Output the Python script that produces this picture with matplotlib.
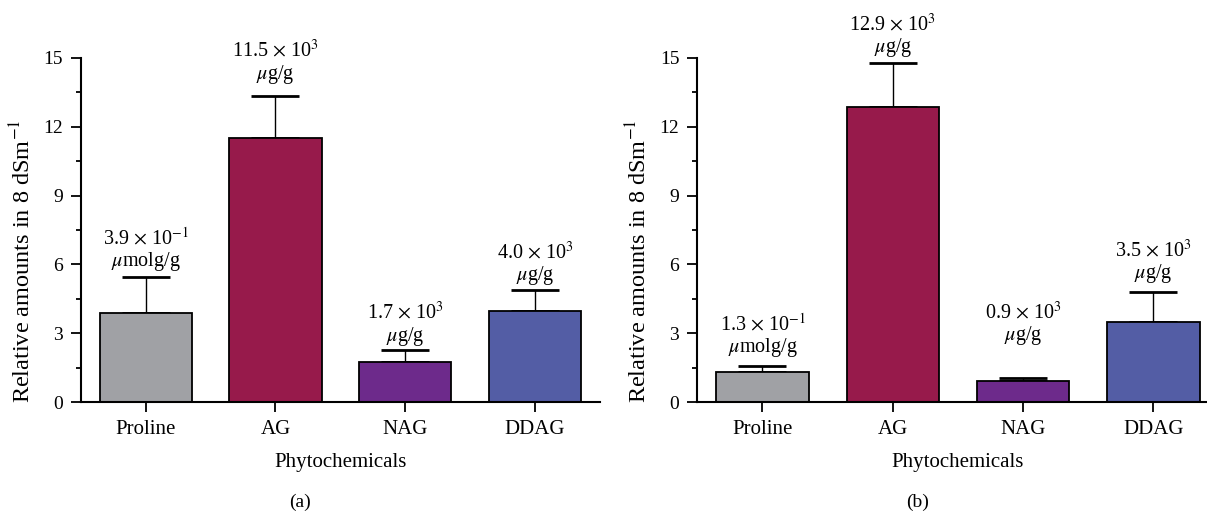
import numpy as np
import matplotlib
matplotlib.use("Agg")
import matplotlib.pyplot as plt
from matplotlib.ticker import MultipleLocator

plt.rcParams['font.family'] = ['Liberation Serif', 'DejaVu Serif']
plt.rcParams['mathtext.fontset'] = 'stix'

categories = ['Proline', 'AG', 'NAG', 'DDAG']
colors = ['#A0A1A5', '#971A4B', '#6D2A8B', '#535DA5']

# panel (a)
vals_a = [3.9, 11.5, 1.74, 3.98]
err_a = [1.55, 1.85, 0.52, 0.9]
labels_a = [r'3.9 $\times$ 10$^{-1}$' + '\n' + r'$\mu$molg/g',
            r'11.5 $\times$ 10$^{3}$' + '\n' + r'$\mu$g/g',
            r'1.7 $\times$ 10$^{3}$' + '\n' + r'$\mu$g/g',
            r'4.0 $\times$ 10$^{3}$' + '\n' + r'$\mu$g/g']
gap_a = [3, 7, 2, 2]

# panel (b)
vals_b = [1.33, 12.87, 0.91, 3.51]
err_b = [0.26, 1.89, 0.16, 1.28]
labels_b = [r'1.3 $\times$ 10$^{-1}$' + '\n' + r'$\mu$molg/g',
            r'12.9 $\times$ 10$^{3}$' + '\n' + r'$\mu$g/g',
            r'0.9 $\times$ 10$^{3}$' + '\n' + r'$\mu$g/g',
            r'3.5 $\times$ 10$^{3}$' + '\n' + r'$\mu$g/g']
gap_b = [5, 3, 22, 5]

W, H = 1207, 514
fig = plt.figure(figsize=(W / 100, H / 100), dpi=100)

def panel(rect, vals, errs, labels, gaps, tag):
    ax = fig.add_axes(rect)
    x = np.arange(len(categories))
    ax.bar(x, vals, width=0.71, color=colors, edgecolor='black', linewidth=1.3, zorder=2)
    ax.errorbar(x, vals, yerr=[np.zeros(len(vals)), errs], fmt='none', ecolor='black',
                elinewidth=1.0, capsize=17, capthick=2.0, zorder=1)
    for xi, v, e, lab, g in zip(x, vals, errs, labels, gaps):
        ax.annotate(lab, (xi, v + e), xytext=(0, g), textcoords='offset points',
                    ha='center', va='bottom', fontsize=14.5, linespacing=1.05)
    ax.set_xlim(-0.5, 3.5)
    ax.set_ylim(0, 15)
    ax.yaxis.set_major_locator(MultipleLocator(3))
    ax.yaxis.set_minor_locator(MultipleLocator(1.5))
    ax.set_xticks(x)
    ax.set_xticklabels(categories, fontsize=15)
    ax.tick_params(axis='y', labelsize=14, length=7, width=1.3, pad=6)
    ax.tick_params(axis='y', which='minor', length=3.5, width=1.3)
    ax.tick_params(axis='x', length=7, width=1.3, pad=6)
    for s in ['top', 'right']:
        ax.spines[s].set_visible(False)
    for s in ['left', 'bottom']:
        ax.spines[s].set_linewidth(1.5)
    ax.set_xlabel('Phytochemicals', fontsize=15, labelpad=10)
    ax.set_ylabel(r'Relative amounts in 8 dSm$^{-1}$', fontsize=17.5)
    ax.yaxis.set_label_coords(-0.088, 0.41)
    fig.text(rect[0] + rect[2] / 2 - 40 / W, 12 / H, tag, ha='center', va='center', fontsize=14)
    return ax

axh = 344.6 / H
axb = 111.7 / H
panel([80.7 / W, axb, 519.3 / W, axh], vals_a, err_a, labels_a, gap_a, '(a)')
panel([697.3 / W, axb, 521.3 / W, axh], vals_b, err_b, labels_b, gap_b, '(b)')

fig.savefig('out.png', dpi=100)
